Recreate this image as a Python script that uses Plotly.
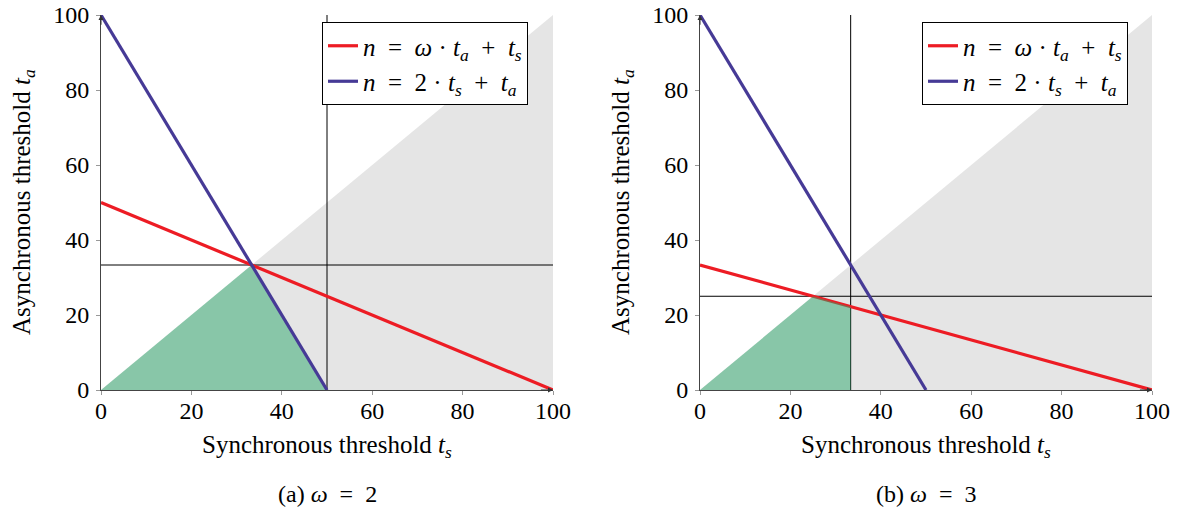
import plotly.graph_objects as go

# ---- data ----
ts_axis = [0, 100]
omega_values = [2, 3]
n_total = 100
panel_captions = ["(a) <i>ω</i>\u2002=\u20022", "(b) <i>ω</i>\u2002=\u20023"]
x_title = "Synchronous threshold <i>t</i><sub><i>s</i></sub>"
y_title = "Asynchronous threshold <i>t</i><sub><i>a</i></sub>"
red_label = "<i>n</i>\u2002=\u2002<i>ω</i>\u2005·\u2005<i>t</i><sub><i>a</i></sub>\u2002+\u2002<i>t</i><sub><i>s</i></sub>"
blue_label = "<i>n</i>\u2002=\u20022\u2005·\u2005<i>t</i><sub><i>s</i></sub>\u2002+\u2002<i>t</i><sub><i>a</i></sub>"
tick_vals = [0, 20, 40, 60, 80, 100]
tick_text = ["0", "20", "40", "60", "80", "100"]

# gray region (t_a < t_s)
gray_x = [0, 100, 100, 0]
gray_y = [0, 0, 100, 0]

# red line: n = omega*t_a + t_s
red_x = [[0, 100], [0, 100]]
red_y = [[50, 0], [33.333, 0]]
# blue line: n = 2*t_s + t_a
blue_x = [[0, 50], [0, 50]]
blue_y = [[100, 0], [100, 0]]
# green feasible region
green_x = [[0, 33.333, 50, 0], [0, 25, 33.333, 33.333, 0]]
green_y = [[0, 33.333, 0, 0], [0, 25, 22.222, 0, 0]]
# thin reference lines
vline_x = [50, 33.333]
hline_y = [33.333, 25]

RED = "#ED1C24"
BLUE = "#463A96"
GRAY = "#E5E5E5"
GREEN = "rgba(43,167,107,0.5)"
FONT = "Liberation Serif"
FS = 24
FT = 25
FL = 25

W, H = 1177, 509


def fx(p):
    return p / W


def fy(p):
    return 1 - p / H


fig = go.Figure()
px_x = [[101, 553], [700, 1152]]
domains = [[fx(a), fx(b)] for a, b in px_x]
ydom = [fy(390), fy(15)]

for i in range(2):
    xa = "x" if i == 0 else "x2"
    ya = "y" if i == 0 else "y2"
    lg = "legend" if i == 0 else "legend2"
    fig.add_trace(go.Scatter(x=gray_x, y=gray_y, fill="toself", fillcolor=GRAY,
                             line=dict(width=0), mode="lines", showlegend=False,
                             hoverinfo="skip", xaxis=xa, yaxis=ya))
    fig.add_trace(go.Scatter(x=[vline_x[i], vline_x[i]], y=[0, 100], mode="lines",
                             line=dict(color="black", width=1), showlegend=False,
                             xaxis=xa, yaxis=ya))
    fig.add_trace(go.Scatter(x=ts_axis, y=[hline_y[i], hline_y[i]], mode="lines",
                             line=dict(color="black", width=1), showlegend=False,
                             xaxis=xa, yaxis=ya))
    fig.add_trace(go.Scatter(x=red_x[i], y=red_y[i], mode="lines",
                             line=dict(color=RED, width=3.2), name=red_label,
                             legend=lg, xaxis=xa, yaxis=ya))
    fig.add_trace(go.Scatter(x=green_x[i], y=green_y[i], fill="toself", fillcolor=GREEN,
                             line=dict(width=0), mode="lines", showlegend=False,
                             hoverinfo="skip", xaxis=xa, yaxis=ya))
    fig.add_trace(go.Scatter(x=blue_x[i], y=blue_y[i], mode="lines",
                             line=dict(color=BLUE, width=3.2), name=blue_label,
                             legend=lg, xaxis=xa, yaxis=ya))

axis_common = dict(range=[0, 100], showgrid=False, zeroline=False, showline=True,
                   linecolor="#444", linewidth=1, ticks="outside", ticklen=4,
                   tickcolor="#999", tickvals=tick_vals, ticktext=tick_text,
                   automargin=False, ticklabeloverflow="allow",
                   tickfont=dict(family=FONT, size=FS, color="black"))

layout = dict(
    width=W, height=H, margin=dict(l=0, r=0, t=0, b=0, autoexpand=False),
    paper_bgcolor="white", plot_bgcolor="white",
    font=dict(family=FONT, size=FS, color="black"),
    xaxis=dict(domain=domains[0], anchor="y", ticklabelstandoff=-5, **axis_common),
    yaxis=dict(domain=ydom, anchor="x", ticklabelstandoff=2, **axis_common),
    xaxis2=dict(domain=domains[1], anchor="y2", ticklabelstandoff=-5, **axis_common),
    yaxis2=dict(domain=ydom, anchor="x2", ticklabelstandoff=2, **axis_common),
    legend=dict(x=fx(322), y=fy(22), xanchor="left", yanchor="top",
                bgcolor="white", bordercolor="black", borderwidth=1,
                font=dict(family=FONT, size=FL), tracegroupgap=0),
    legend2=dict(x=fx(922), y=fy(22), xanchor="left", yanchor="top",
                 bgcolor="white", bordercolor="black", borderwidth=1,
                 font=dict(family=FONT, size=FL), tracegroupgap=0),
)
fig.update_layout(**layout)

anns = []
for i in range(2):
    xr = "x" if i == 0 else "x2"
    yr = "y" if i == 0 else "y2"
    cx = fx((px_x[i][0] + px_x[i][1]) / 2)
    anns.append(dict(x=cx, y=fy(494), xref="paper", yref="paper",
                     text=panel_captions[i], showarrow=False,
                     font=dict(family=FONT, size=FS), xanchor="center", yanchor="middle"))
    anns.append(dict(x=cx, y=fy(446), xref="paper", yref="paper",
                     text=x_title, showarrow=False,
                     font=dict(family=FONT, size=FT), xanchor="center", yanchor="middle"))
    anns.append(dict(x=fx(px_x[i][0] - 78), y=fy(202), xref="paper", yref="paper",
                     text=y_title, showarrow=False, textangle=-90,
                     font=dict(family=FONT, size=FT), xanchor="center", yanchor="middle"))
    anns.append(dict(x=0, y=100, ax=0, ay=97, xref=xr, yref=yr, axref=xr, ayref=yr,
                     text="", showarrow=True, arrowhead=2, arrowsize=1, arrowwidth=1,
                     arrowcolor="#333"))
    anns.append(dict(x=100, y=0, ax=97, ay=0, xref=xr, yref=yr, axref=xr, ayref=yr,
                     text="", showarrow=True, arrowhead=2, arrowsize=1, arrowwidth=1,
                     arrowcolor="#333"))
fig.update_layout(annotations=anns)

fig.write_html("out.html", config={"displayModeBar": False},
               post_script="document.body.style.margin='0';")
